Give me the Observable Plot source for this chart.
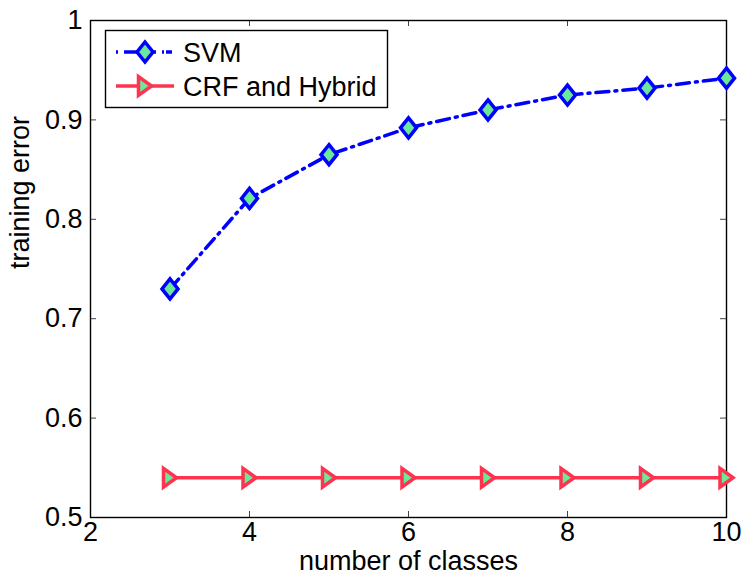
<!DOCTYPE html>
<html>
<head>
<meta charset="utf-8">
<script src="https://cdn.jsdelivr.net/npm/d3@7"></script>
<script src="https://cdn.jsdelivr.net/npm/@observablehq/plot@0.6"></script>
<style>
  html, body { margin: 0; padding: 0; background: #fff; }
  #wrap { position: relative; width: 741px; height: 578px; }
  #legend { position: absolute; left: 0; top: 0; }
  text { font-family: "Liberation Sans", Arial, sans-serif; }
</style>
</head>
<body>
<div id="wrap"></div>
<script>
// ---- data ----
const classes = [3, 4, 5, 6, 7, 8, 9, 10];
const svmError = [0.730, 0.821, 0.865, 0.892, 0.910, 0.925, 0.932, 0.942];
const crfError = [0.540, 0.540, 0.540, 0.540, 0.540, 0.540, 0.540, 0.540];
const seriesNames = ["SVM", "CRF and Hybrid"];
const xTicks = [2, 4, 6, 8, 10];
const yTicks = [0.5, 0.6, 0.7, 0.8, 0.9, 1.0];
const yTickLabels = ["0.5", "0.6", "0.7", "0.8", "0.9", "1"];
const xLabel = "number of classes";
const yLabel = "training error";

// ---- styles ----
const BLUE = "#0000ff";
const RED = "#fe3350";
const GREEN = "#6be89a";
const FONT = "27px";
const W = 741, H = 578, ML = 90, MR = 15, MT = 20, MB = 61, TICK = 6;
const innerW = W - ML - MR, innerH = H - MT - MB;

const svmData = classes.map((c, i) => ({x: c, y: svmError[i]}));
const crfData = classes.map((c, i) => ({x: c, y: crfError[i]}));

// custom marker shapes
const diamond = {
  draw(ctx, size) {
    const r = Math.sqrt(size / Math.PI);
    ctx.moveTo(0, -1.25 * r);
    ctx.lineTo(r, 0);
    ctx.lineTo(0, 1.25 * r);
    ctx.lineTo(-r, 0);
    ctx.closePath();
  }
};
const triRight = {
  draw(ctx, size) {
    const r = Math.sqrt(size / Math.PI);
    ctx.moveTo(r, 0);
    ctx.lineTo(-r, -1.45 * r);
    ctx.lineTo(-r, 1.45 * r);
    ctx.closePath();
  }
};

const tickStyle = {stroke: "#444", strokeWidth: 1};

const chart = Plot.plot({
  width: W,
  height: H,
  marginLeft: ML,
  marginRight: MR,
  marginTop: MT,
  marginBottom: MB,
  style: {fontFamily: "'Liberation Sans', Arial, sans-serif", fontSize: FONT, background: "#fff", color: "#000"},
  x: {domain: [2, 10]},
  y: {domain: [0.5, 1]},
  marks: [
    // inward ticks on all four sides
    Plot.tickX(xTicks, {x: d => d, insetTop: innerH - TICK, ...tickStyle}),
    Plot.tickX(xTicks, {x: d => d, insetBottom: innerH - TICK, ...tickStyle}),
    Plot.tickY(yTicks, {y: d => d, insetRight: innerW - TICK, ...tickStyle}),
    Plot.tickY(yTicks, {y: d => d, insetLeft: innerW - TICK, ...tickStyle}),
    // tick labels
    Plot.axisX(xTicks, {anchor: "bottom", tickSize: 0, tickPadding: 4, fontSize: FONT, label: null}),
    Plot.axisY(yTicks, {anchor: "left", tickSize: 0, tickPadding: 8, fontSize: FONT, label: null,
      tickFormat: (d) => yTickLabels[yTicks.indexOf(d)]}),
    // axis titles
    Plot.text([xLabel], {text: d => d, frameAnchor: "bottom", dy: 52, lineAnchor: "bottom", fontSize: FONT}),
    Plot.text([yLabel], {text: d => d, frameAnchor: "left", dx: -62, rotate: -90, lineAnchor: "bottom", fontSize: FONT}),
    Plot.frame({stroke: "#000", strokeWidth: 1.4}),
    // series
    Plot.line(svmData, {x: "x", y: "y", stroke: BLUE, strokeWidth: 3.5, strokeDasharray: "13,6,2,6"}),
    Plot.dot(svmData, {x: "x", y: "y", symbol: diamond, r: 8, stroke: BLUE, strokeWidth: 3.5, fill: GREEN, fillOpacity: 1}),
    Plot.line(crfData, {x: "x", y: "y", stroke: RED, strokeWidth: 3.5}),
    Plot.dot(crfData, {x: "x", y: "y", symbol: triRight, r: 6.5, stroke: RED, strokeWidth: 3.5, fill: GREEN, fillOpacity: 1})
  ]
});

const wrap = document.getElementById("wrap");
wrap.appendChild(chart);

// legend box (inside the axes, top-left)
const lg = d3.create("svg").attr("id", "legend").attr("width", W).attr("height", 120);
lg.append("rect").attr("x", 105.5).attr("y", 30.5).attr("width", 282).attr("height", 77)
  .attr("fill", "#fff").attr("stroke", "#000").attr("stroke-width", 1.4);
const rowY = [52, 86];
// SVM entry
lg.append("line").attr("x1", 116).attr("x2", 174).attr("y1", rowY[0]).attr("y2", rowY[0])
  .attr("stroke", BLUE).attr("stroke-width", 3.5).attr("stroke-dasharray", "2,6,13,6,13,6,2");
lg.append("path").attr("transform", `translate(145,${rowY[0]})`)
  .attr("d", d3.symbol(diamond, 64 * Math.PI)())
  .attr("fill", GREEN).attr("stroke", BLUE).attr("stroke-width", 3.5);
// CRF entry
lg.append("line").attr("x1", 116).attr("x2", 174).attr("y1", rowY[1]).attr("y2", rowY[1])
  .attr("stroke", RED).attr("stroke-width", 3.5);
lg.append("path").attr("transform", `translate(145,${rowY[1]})`)
  .attr("d", d3.symbol(triRight, 6.5 * 6.5 * Math.PI)())
  .attr("fill", GREEN).attr("stroke", RED).attr("stroke-width", 3.5);
seriesNames.forEach((name, i) => {
  lg.append("text").attr("x", 183).attr("y", rowY[i]).attr("dy", "0.36em")
    .attr("font-size", FONT).attr("fill", "#000").text(name);
});
wrap.appendChild(lg.node());
</script>
</body>
</html>
